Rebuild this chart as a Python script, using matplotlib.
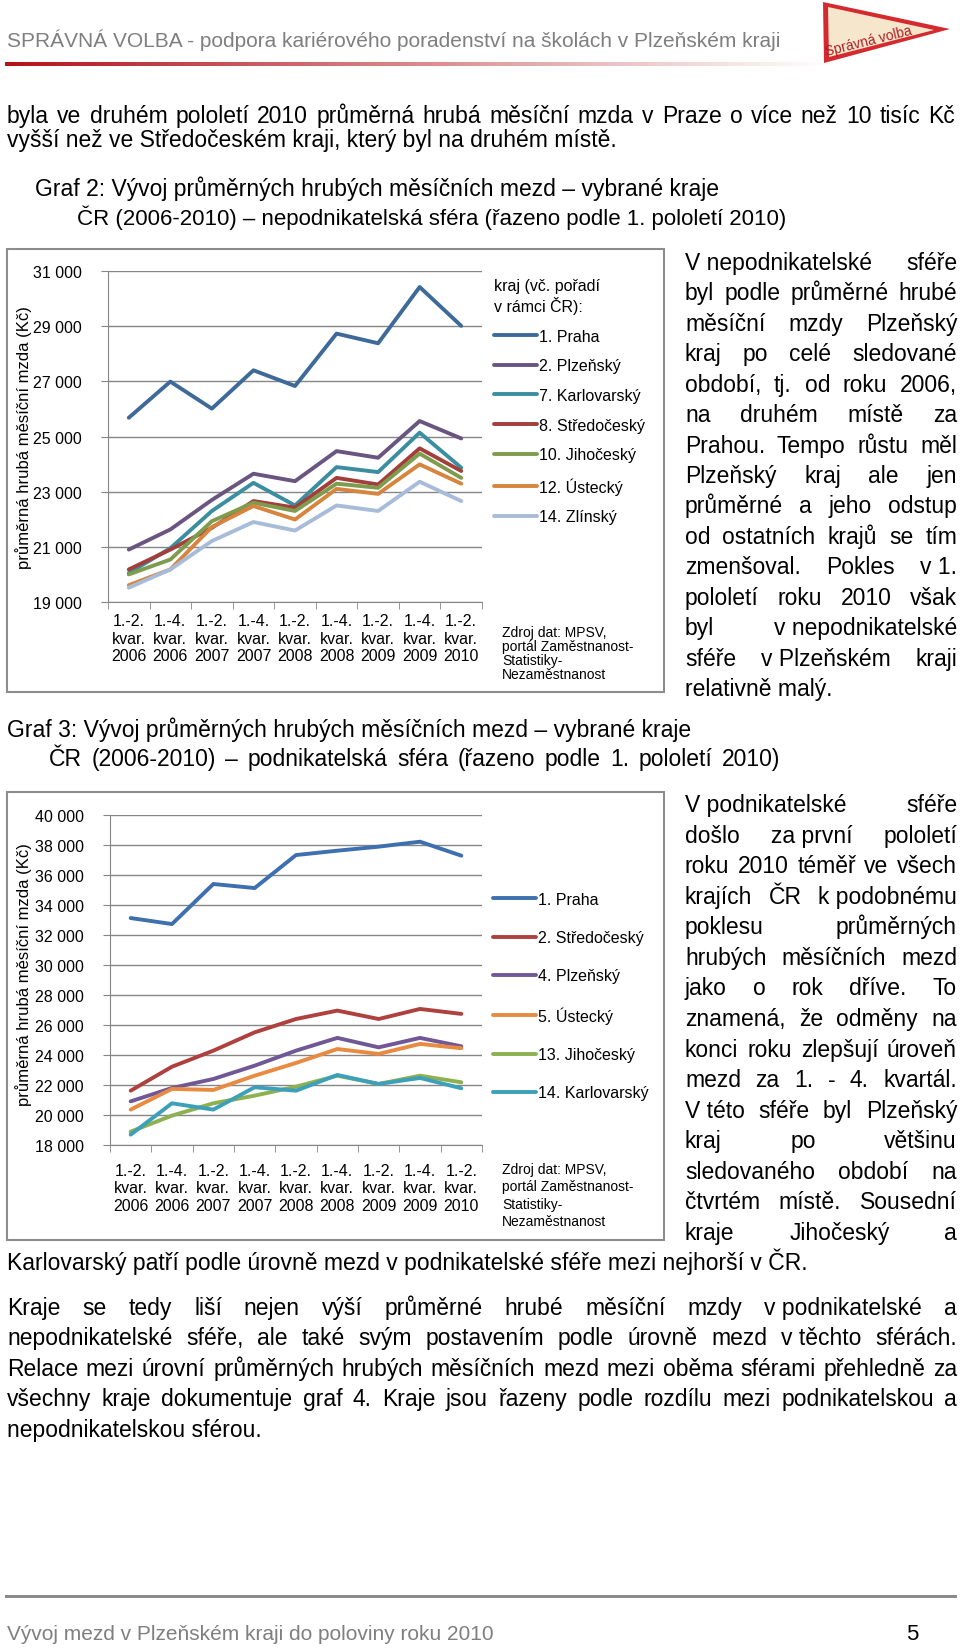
import numpy as np
import matplotlib
matplotlib.use('Agg')
import matplotlib.pyplot as plt
from matplotlib.patches import Polygon, Rectangle
from matplotlib.colors import LinearSegmentedColormap
from matplotlib.ticker import FuncFormatter

plt.rcParams['font.family'] = ['Liberation Sans', 'DejaVu Sans']

W, H = 960, 1649

periods = ['1.-2.\nkvar.\n2006', '1.-4.\nkvar.\n2006', '1.-2.\nkvar.\n2007',
           '1.-4.\nkvar.\n2007', '1.-2.\nkvar.\n2008', '1.-4.\nkvar.\n2008',
           '1.-2.\nkvar.\n2009', '1.-4.\nkvar.\n2009', '1.-2.\nkvar.\n2010']

# graf 2 - nepodnikatelska sfera
ns_names = ['1. Praha', '2. Plzeňský', '7. Karlovarský', '8. Středočeský',
            '10. Jihočeský', '12. Ústecký', '14. Zlínský']
ns_praha = [25680, 26990, 26010, 27400, 26830, 28730, 28380, 30420, 29010]
ns_plzensky = [20900, 21630, 22700, 23650, 23380, 24470, 24230, 25560, 24930]
ns_karlovarsky = [20050, 20950, 22300, 23320, 22500, 23890, 23710, 25140, 23870]
ns_stredocesky = [20180, 20900, 21690, 22660, 22420, 23500, 23260, 24570, 23750]
ns_jihocesky = [20000, 20540, 21930, 22600, 22300, 23290, 23140, 24380, 23500]
ns_ustecky = [19610, 20180, 21720, 22480, 21990, 23100, 22920, 23990, 23290]
ns_zlinsky = [19520, 20180, 21210, 21900, 21590, 22500, 22300, 23360, 22660]
ns_colors = ['#3E6A9A', '#6A5580', '#3A8EA0', '#A33E3B', '#7E9C4E', '#D7853E', '#A8BBD8']

# graf 3 - podnikatelska sfera
p_names = ['1. Praha', '2. Středočeský', '4. Plzeňský', '5. Ústecký',
           '13. Jihočeský', '14. Karlovarský']
p_praha = [33130, 32730, 35400, 35130, 37330, 37620, 37890, 38220, 37290]
p_stredocesky = [21620, 23220, 24290, 25510, 26400, 26960, 26400, 27070, 26740]
p_plzensky = [20910, 21800, 22400, 23290, 24290, 25140, 24510, 25140, 24580]
p_ustecky = [20360, 21740, 21670, 22620, 23470, 24400, 24070, 24740, 24450]
p_jihocesky = [18890, 19960, 20780, 21290, 21890, 22620, 22070, 22620, 22180]
p_karlovarsky = [18690, 20780, 20360, 21850, 21620, 22670, 22070, 22470, 21780]
p_colors = ['#3E6FAE', '#AE403D', '#6F5895', '#E88A42', '#8DB050', '#3DA0BA']

BODY = 16.5
GRID = '#868686'

fig = plt.figure(figsize=(W / 100, H / 100), dpi=100)
fig.patch.set_facecolor('white')


def fx(x):
    return x / W


def fy(y):
    return 1 - y / H


def put_line(text, x0, x1, y, size=BODY, justify=True, color='black'):
    # y is the visual middle of the line, words sit on one baseline
    base = fy(y + 7)
    words = text.split(' ')
    if not justify or len(words) < 2:
        fig.text(fx(x0), base, text, fontsize=size, color=color, va='baseline')
        return
    r = fig.canvas.get_renderer()
    items = [fig.text(0, base, w, fontsize=size, color=color, va='baseline') for w in words]
    widths = [t.get_window_extent(r).width for t in items]
    gap = (x1 - x0 - sum(widths)) / (len(words) - 1)
    x = x0
    for t, w in zip(items, widths):
        t.set_x(fx(x))
        x += w + gap


def paragraph(lines, x0, x1, y0, step, last_left=True):
    for i, s in enumerate(lines):
        last = (i == len(lines) - 1) and last_left
        put_line(s, x0, x1, y0 + i * step, justify=not last)


def box(x0, y0, x1, y1):
    fig.add_artist(Rectangle((fx(x0), fy(y1)), (x1 - x0) / W, (y1 - y0) / H,
                             transform=fig.transFigure, fill=False,
                             edgecolor='#8C8C8C', linewidth=1.5))


def line_chart(rect, series, names, colors, ylim, step, xpad, legend_pos, ylabel_y, title=None):
    x0, y0, x1, y1 = rect
    ax = fig.add_axes([fx(x0), fy(y1), (x1 - x0) / W, (y1 - y0) / H])
    x = np.arange(len(periods))
    for vals, name, c in zip(series, names, colors):
        ax.plot(x, vals, color=c, linewidth=2.8, label=name,
                solid_capstyle='round', solid_joinstyle='round')
    ax.set_xlim(-0.5, len(periods) - 0.5)
    ax.set_ylim(*ylim)
    ax.set_yticks(np.arange(ylim[0], ylim[1] + 1, step))
    ax.yaxis.set_major_formatter(FuncFormatter(lambda v, p: f'{v:,.0f}'.replace(',', ' ')))
    ax.set_xticks(x)
    ax.set_xticklabels(periods, fontsize=11.5, linespacing=1.2)
    ax.set_xticks(np.arange(-0.5, len(periods)), minor=True)
    ax.tick_params(axis='x', which='major', length=0, pad=xpad)
    ax.tick_params(axis='x', which='minor', length=5, color=GRID)
    ax.tick_params(axis='y', length=5, color=GRID, pad=14, labelsize=11.5)
    ax.grid(axis='y', color=GRID, linewidth=1)
    ax.set_axisbelow(True)
    for s in ['top', 'right']:
        ax.spines[s].set_visible(False)
    for s in ['left', 'bottom']:
        ax.spines[s].set_color(GRID)
    fig.text(fx(24), fy(ylabel_y), 'průměrná hrubá měsíční mzda (Kč)', fontsize=12,
             rotation=90, ha='center', va='center')
    leg = ax.legend(loc='upper left', bbox_to_anchor=(fx(legend_pos[0]), fy(legend_pos[1])),
                    bbox_transform=fig.transFigure, frameon=False, fontsize=11.5,
                    handlelength=2.7, handletextpad=0.1, labelspacing=legend_pos[2],
                    borderaxespad=0, borderpad=0, title=title, title_fontsize=11.5,
                    alignment='left')
    for h in leg.get_lines():
        h.set_solid_capstyle('round')
        h.set_linewidth(2.8)
    return ax


# header
fig.text(fx(7), fy(40), 'SPRÁVNÁ VOLBA - podpora kariérového poradenství na školách v Plzeňském kraji',
         fontsize=15, color='#7F7F7F', va='center')
gax = fig.add_axes([fx(5), fy(67), 825 / W, 4 / H])
gax.imshow(np.linspace(0, 1, 300).reshape(1, -1), aspect='auto',
           cmap=LinearSegmentedColormap.from_list('g', ['#B2131A', '#D98A8C', '#FFFFFF']))
gax.axis('off')
fig.add_artist(Polygon([(fx(823), fy(3)), (fx(824), fy(64)), (fx(950), fy(30))],
                       closed=True, transform=fig.transFigure, facecolor='#D42A2F', edgecolor='none'))
fig.add_artist(Polygon([(fx(828), fy(8)), (fx(829), fy(58)), (fx(934), fy(31))],
                       closed=True, transform=fig.transFigure, facecolor='#F6E7CC', edgecolor='none'))
fig.text(fx(868), fy(41), 'Správná volba', fontsize=10, color='#B01E23', rotation=14,
         ha='center', va='center')

# text above graf 2
put_line('byla ve druhém pololetí 2010 průměrná hrubá měsíční mzda v Praze o více než 10 tisíc Kč', 7, 955, 116)
put_line('vyšší než ve Středočeském kraji, který byl na druhém místě.', 7, 955, 140, justify=False)
put_line('Graf 2: Vývoj průměrných hrubých měsíčních mezd – vybrané kraje', 35, 955, 189, justify=False)
put_line('ČR (2006-2010) – nepodnikatelská sféra (řazeno podle 1. pololetí 2010)', 77, 955, 218,
         size=16, justify=False)

# graf 2
box(7, 250, 664, 693)
line_chart((108, 272, 482, 603),
           [ns_praha, ns_plzensky, ns_karlovarsky, ns_stredocesky, ns_jihocesky, ns_ustecky, ns_zlinsky],
           ns_names, ns_colors, (19000, 31000), 2000, 8, (494, 279, 0.92), 438,
           title='kraj (vč. pořadí\nv rámci ČR):')
for i, s in enumerate(['Zdroj dat: MPSV,', 'portál Zaměstnanost-', 'Statistiky-', 'Nezaměstnanost']):
    fig.text(fx(502), fy(633 + i * 14), s, fontsize=10, va='center')

paragraph(['V\u00a0nepodnikatelské sféře',
           'byl podle průměrné hrubé',
           'měsíční mzdy Plzeňský',
           'kraj po celé sledované',
           'období, tj. od roku 2006,',
           'na druhém místě za',
           'Prahou. Tempo růstu měl',
           'Plzeňský kraj ale jen',
           'průměrné a jeho odstup',
           'od ostatních krajů se tím',
           'zmenšoval. Pokles v\u00a01.',
           'pololetí roku 2010 však',
           'byl v\u00a0nepodnikatelské',
           'sféře v\u00a0Plzeňském kraji',
           'relativně malý.'], 685, 957, 263, 30.43)

put_line('Graf 3: Vývoj průměrných hrubých měsíčních mezd – vybrané kraje', 7, 955, 730, justify=False)
put_line('ČR (2006-2010) – podnikatelská sféra (řazeno podle 1. pololetí 2010)', 49, 780, 759)

# graf 3
box(7, 793, 664, 1241)
line_chart((110, 816, 482, 1146),
           [p_praha, p_stredocesky, p_plzensky, p_ustecky, p_jihocesky, p_karlovarsky],
           p_names, p_colors, (18000, 40000), 2000, 13, (493, 893, 1.45), 975)
for i, s in enumerate(['Zdroj dat: MPSV,', 'portál Zaměstnanost-', 'Statistiky-', 'Nezaměstnanost']):
    fig.text(fx(502), fy(1170 + i * 17.5), s, fontsize=10, va='center')

paragraph(['V\u00a0podnikatelské sféře',
           'došlo za\u00a0první pololetí',
           'roku 2010 téměř ve všech',
           'krajích ČR k\u00a0podobnému',
           'poklesu průměrných',
           'hrubých měsíčních mezd',
           'jako o rok dříve. To',
           'znamená, že odměny na',
           'konci roku zlepšují úroveň',
           'mezd za 1. - 4. kvartál.',
           'V\u00a0této sféře byl Plzeňský',
           'kraj po většinu',
           'sledovaného období na',
           'čtvrtém místě. Sousední',
           'kraje Jihočeský a'], 685, 957, 805, 30.57, last_left=False)
put_line('Karlovarský patří podle úrovně mezd v\u00a0podnikatelské sféře mezi nejhorší v ČR.', 7, 955, 1263,
         justify=False)

paragraph(['Kraje se tedy liší nejen výší průměrné hrubé měsíční mzdy v\u00a0podnikatelské a',
           'nepodnikatelské sféře, ale také svým postavením podle úrovně mezd v\u00a0těchto sférách.',
           'Relace mezi úrovní průměrných hrubých měsíčních mezd mezi oběma sférami přehledně za',
           'všechny kraje dokumentuje graf 4. Kraje jsou řazeny podle rozdílu mezi podnikatelskou a',
           'nepodnikatelskou sférou.'], 7, 957, 1308, 30.5)

# footer
fig.add_artist(Rectangle((fx(5), fy(1599)), 952 / W, 3 / H, transform=fig.transFigure,
                         facecolor='#8A8A8A', edgecolor='none'))
fig.text(fx(7), fy(1635), 'Vývoj mezd v Plzeňském kraji do poloviny roku 2010', fontsize=15,
         color='#7F7F7F', va='center')
fig.text(fx(906), fy(1635), '5', fontsize=16, va='center')

fig.savefig('out.png', dpi=100)
